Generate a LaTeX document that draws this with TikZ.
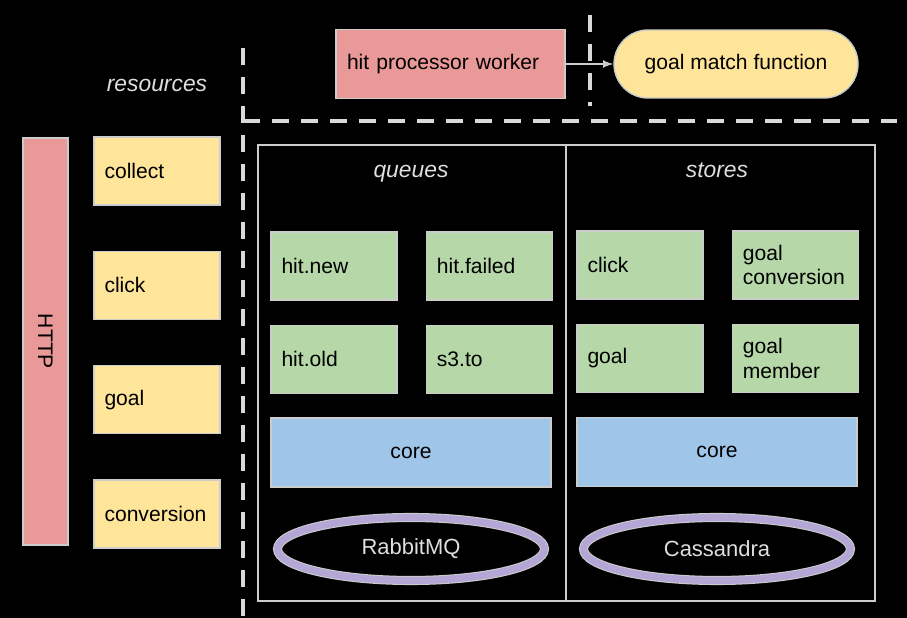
\documentclass[tikz,border=0pt]{standalone}
\usepackage{fontspec}
\setmainfont{Liberation Sans}
\usetikzlibrary{arrows,shapes,positioning}
\definecolor{bgblack}{RGB}{0,0,0}
\definecolor{edgegray}{RGB}{204,204,204}
\definecolor{dashgray}{RGB}{217,217,217}
\definecolor{labelgray}{RGB}{222,222,222}
\definecolor{boxpink}{RGB}{234,153,153}
\definecolor{boxyellow}{RGB}{255,229,153}
\definecolor{boxgreen}{RGB}{182,215,168}
\definecolor{boxblue}{RGB}{159,197,232}
\definecolor{ringpurple}{RGB}{180,167,214}
\tikzstyle{arrow} = [line width=1pt,->,>=latex,color=edgegray]
\tikzstyle{divider} = [line width=2.4pt, color=dashgray, dash pattern=on 0.34cm off 0.24cm]
\tikzstyle{component} = [rectangle, draw=edgegray, line width=0.8pt, minimum width=2.52cm, minimum height=1.36cm, text width=2.1cm, align=left, inner sep=0pt, text=black, font=\fontsize{12}{14}\selectfont]
\tikzstyle{resource} = [component, fill=boxyellow]
\tikzstyle{entity} = [component, fill=boxgreen]
\tikzstyle{core} = [rectangle, draw=edgegray, line width=0.8pt, fill=boxblue, minimum width=5.6cm, minimum height=1.38cm, text=black, font=\fontsize{12}{14}\selectfont]
\tikzstyle{panel} = [rectangle, draw=edgegray, line width=0.8pt, minimum width=6.16cm, minimum height=9.12cm]
\tikzstyle{heading} = [text=labelgray, text height=1.4ex, text depth=0.4ex, font=\fontsize{13}{15}\selectfont\itshape]
\tikzstyle{backend} = [ellipse, draw=edgegray, double=ringpurple, double distance=0.14cm, line width=0.6pt, minimum width=5.34cm, minimum height=1.26cm, text=labelgray, font=\fontsize{12.5}{14}\selectfont]

\begin{document}
\begin{tikzpicture}[x=0.02cm, y=-0.02cm]
\useasboundingbox (0,0) rectangle (907,618);
\fill[bgblack] (0,0) rectangle (907,618);

% worker and function
\node (worker) [component, fill=boxpink, minimum width=4.58cm, minimum height=1.38cm, text width=4.14cm] at (450.5,64) {hit processor worker};
\node (goalmatch) [rectangle, rounded corners=0.68cm, draw=edgegray, line width=0.8pt, fill=boxyellow, minimum width=4.88cm, minimum height=1.36cm, text=black, font=\fontsize{12}{14}\selectfont] at (736,64) {goal match function};

% separators
\coordinate (vtop) at (243,48);
\coordinate (vbot) at (243,618);
\coordinate (hleft) at (243,121);
\coordinate (hright) at (897,121);
\coordinate (stop) at (590,15);
\coordinate (sbot) at (590,106);
\draw[divider] (vtop) -- (vbot);
\draw[divider] (hleft) -- (hright);
\draw[divider] (stop) -- (sbot);
\draw[arrow] (worker) -- (goalmatch);

% resources
\node (resources) [heading] at (157,87) {resources};
\node (http) [rectangle, draw=edgegray, line width=0.8pt, fill=boxpink, minimum width=8.14cm, minimum height=0.9cm, rotate=-90, text=black, font=\fontsize{12}{14}\selectfont] at (45.5,341.5) {HTTP};
\node (collect) [resource] at (157,171) {collect};
\node (click) [resource, below=0.9cm of collect] {click};
\node (goal) [resource, below=0.9cm of click] {goal};
\node (conversion) [resource, below=0.9cm of goal] {conversion};

% queues
\node (queuepanel) [panel] at (412,373) {};
\node (queues) [heading] at (411,173) {queues};
\node (hitnew) [entity] at (334,266) {hit.new};
\node (hitfailed) [entity, right=0.56cm of hitnew] {hit.failed};
\node (hitold) [entity, below=0.48cm of hitnew] {hit.old};
\node (sthreeto) [entity, right=0.56cm of hitold] {s3.to};
\node (queuecore) [core] at (411,452.5) {core};
\node (rabbitmq) [backend] at (411,549) {RabbitMQ};

% stores
\node (storepanel) [panel, minimum width=6.18cm] at (720.5,373) {};
\node (stores) [heading] at (717,173) {stores};
\node (storeclick) [entity] at (640,265) {click};
\node (goalconversion) [entity, right=0.56cm of storeclick] {goal\\conversion};
\node (storegoal) [entity, below=0.48cm of storeclick] {goal};
\node (goalmember) [entity, right=0.56cm of storegoal] {goal\\member};
\node (storecore) [core] at (717,452) {core};
\node (cassandra) [backend] at (717,549) {Cassandra};
\end{tikzpicture}
\end{document}
